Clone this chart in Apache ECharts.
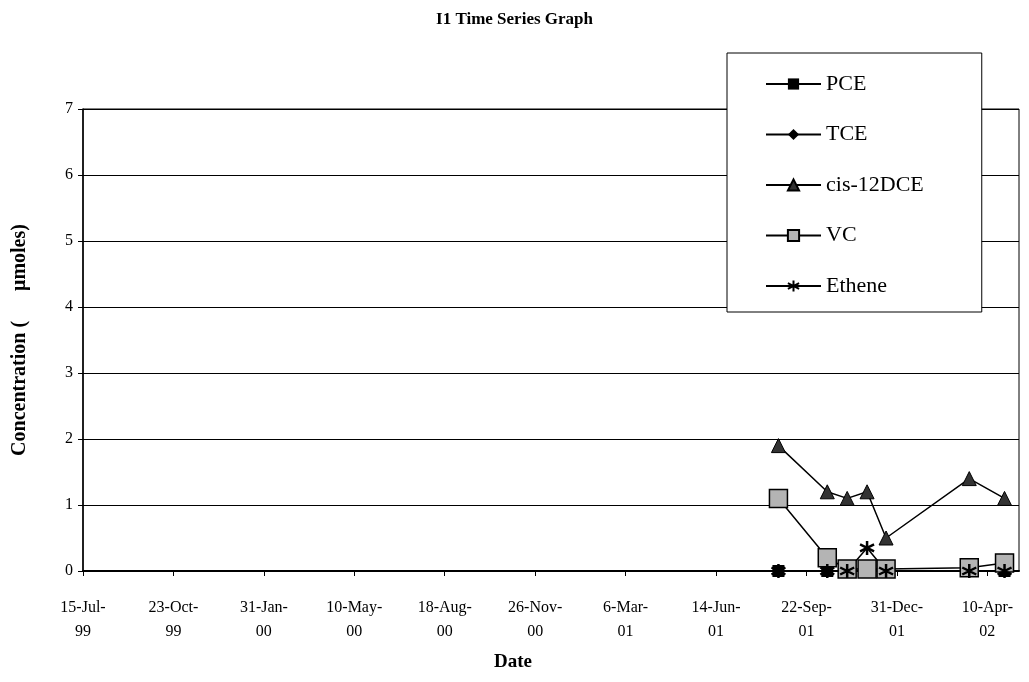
<!DOCTYPE html>
<html>
<head>
<meta charset="utf-8">
<title>I1 Time Series Graph</title>
<script src="https://cdn.jsdelivr.net/npm/echarts@6/dist/echarts.min.js"></script>
<style>
  html, body { margin: 0; padding: 0; background: #fff; }
  #container { width: 1029px; height: 682px; }
</style>
</head>
<body>
<div id="container"></div>
<script>
// sampling dates and concentrations (umoles)
var dates = ['2001-08-22', '2001-10-15', '2001-11-06', '2001-11-28', '2001-12-19', '2002-03-21', '2002-04-29'];
var pce    = [0, 0, 0, 0, 0, 0, 0];
var tce    = [0, 0, 0, 0, 0, 0, 0];
var cisDce = [1.9, 1.2, 1.1, 1.2, 0.5, 1.4, 1.1];
var vc     = [1.1, 0.2, 0.03, 0.03, 0.03, 0.05, 0.12];
var ethene = [0, 0, 0, 0.35, 0, 0, 0];

// x axis runs in days from the first tick date, one tick every 100 days
var startDate = '1999-07-15';
var endDay = 1035;
var months = ['Jan', 'Feb', 'Mar', 'Apr', 'May', 'Jun', 'Jul', 'Aug', 'Sep', 'Oct', 'Nov', 'Dec'];

function toUtc(s) {
  var p = s.split('-');
  return Date.UTC(+p[0], +p[1] - 1, +p[2]);
}
var base = toUtc(startDate);

function dayOf(s) {
  return Math.round((toUtc(s) - base) / 86400000);
}

function dateLabel(v) {
  var d = new Date(base + v * 86400000);
  var yy = String(d.getUTCFullYear() % 100).padStart(2, '0');
  return d.getUTCDate() + '-' + months[d.getUTCMonth()] + '-\n' + yy;
}

function pairs(values) {
  return dates.map((d, i) => [dayOf(d), values[i]]);
}

var serif = 'Liberation Serif';
var asterisk = 'path://M5,0L5,10M0.7,2.5L9.3,7.5M9.3,2.5L0.7,7.5';

var dom = document.getElementById('container');
var myChart = echarts.init(dom);

var option = {
  animation: false,
  backgroundColor: '#fff',
  title: {
    text: 'I1 Time Series Graph',
    left: 'center',
    top: 6,
    textStyle: { fontFamily: serif, fontSize: 17, fontWeight: 'bold', color: '#000' }
  },
  legend: {
    orient: 'vertical',
    left: 727,
    top: 53,
    padding: [18, 58, 13, 38],
    itemWidth: 55,
    itemHeight: 14,
    itemGap: 24.5,
    backgroundColor: '#fff',
    borderColor: '#000',
    borderWidth: 1,
    borderRadius: 0,
    textStyle: { fontFamily: serif, fontSize: 22, color: '#000', lineHeight: 26 },
    data: ['PCE', 'TCE', 'cis-12DCE', 'VC', 'Ethene']
  },
  grid: {
    left: 83,
    right: 10,
    top: 109,
    bottom: 111,
    show: true,
    borderColor: '#000',
    borderWidth: 1
  },
  xAxis: {
    type: 'value',
    min: 0,
    max: endDay,
    interval: 100,
    name: 'Date',
    nameLocation: 'middle',
    nameGap: 82,
    nameTextStyle: { fontFamily: serif, fontSize: 19, fontWeight: 'bold', color: '#000', padding: [0, 76, 0, 0] },
    axisLine: { lineStyle: { color: '#000', width: 2 } },
    axisTick: { show: true, length: 5, inside: false, lineStyle: { color: '#000' } },
    axisLabel: {
      showMaxLabel: false,
      margin: 25,
      fontFamily: serif,
      fontSize: 16,
      lineHeight: 24,
      color: '#000',
      formatter: dateLabel
    },
    splitLine: { show: false }
  },
  yAxis: {
    type: 'value',
    min: 0,
    max: 7,
    interval: 1,
    name: 'Concentration (      μmoles)',
    nameLocation: 'middle',
    nameGap: 53,
    nameTextStyle: { fontFamily: serif, fontSize: 20, fontWeight: 'bold', color: '#000' },
    axisLine: { show: true, lineStyle: { color: '#000', width: 1.5 } },
    axisTick: { show: true, length: 5, lineStyle: { color: '#000' } },
    axisLabel: { margin: 10, fontFamily: serif, fontSize: 16, color: '#000' },
    splitLine: { show: true, lineStyle: { color: '#000', width: 1 } }
  },
  series: [
    {
      name: 'PCE',
      type: 'line',
      data: pairs(pce),
      symbol: 'rect',
      symbolSize: 12,
      lineStyle: { color: '#000', width: 1.5 },
      itemStyle: { color: '#000' }
    },
    {
      name: 'TCE',
      type: 'line',
      data: pairs(tce),
      symbol: 'diamond',
      symbolSize: 13,
      lineStyle: { color: '#000', width: 1.5 },
      itemStyle: { color: '#000' }
    },
    {
      name: 'cis-12DCE',
      type: 'line',
      data: pairs(cisDce),
      symbol: 'triangle',
      symbolSize: 14,
      lineStyle: { color: '#000', width: 1.5 },
      itemStyle: { color: '#333', borderColor: '#000', borderWidth: 1 }
    },
    {
      name: 'VC',
      type: 'line',
      data: pairs(vc),
      symbol: 'rect',
      symbolSize: 18,
      lineStyle: { color: '#000', width: 1.5 },
      itemStyle: { color: '#b4b4b4', borderColor: '#000', borderWidth: 1.5 }
    },
    {
      name: 'Ethene',
      type: 'line',
      data: pairs(ethene),
      symbol: asterisk,
      symbolSize: 14,
      lineStyle: { color: '#000', width: 1.5 },
      itemStyle: { color: '#000', borderColor: '#000', borderWidth: 2.5 }
    }
  ]
};

myChart.setOption(option);
window.onresize = function() {
  myChart.resize();
};
</script>
</body>
</html>
